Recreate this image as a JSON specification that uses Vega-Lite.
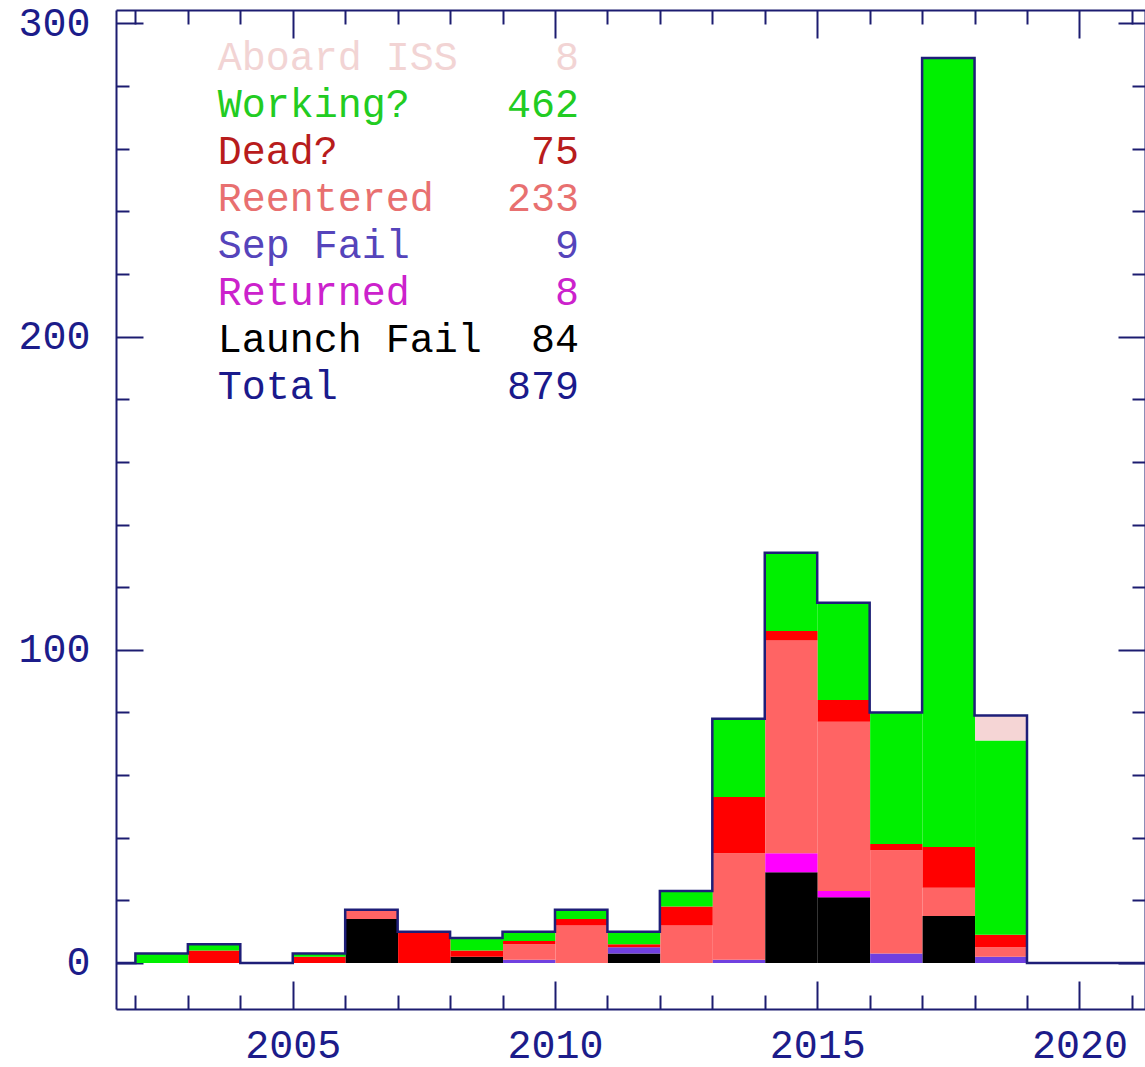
{
  "$schema": "https://vega.github.io/schema/vega-lite/v6.json",
  "width": 1029,
  "height": 999,
  "autosize": {"type": "none"},
  "padding": {"left": 116, "top": 10, "right": 0, "bottom": 58},
  "background": "white",
  "config": {"view": {"stroke": null}, "axis": {"grid": false}},
  "datasets": {
    "sats": [
      {"year": 2001, "cat": "Working?", "n": 0},
      {"year": 2002, "cat": "Working?", "n": 3},
      {"year": 2003, "cat": "Dead?", "n": 4},
      {"year": 2003, "cat": "Working?", "n": 2},
      {"year": 2004, "cat": "Working?", "n": 0},
      {"year": 2005, "cat": "Dead?", "n": 2},
      {"year": 2005, "cat": "Working?", "n": 1},
      {"year": 2006, "cat": "Launch Fail", "n": 14},
      {"year": 2006, "cat": "Reentered", "n": 3},
      {"year": 2007, "cat": "Dead?", "n": 10},
      {"year": 2008, "cat": "Launch Fail", "n": 2},
      {"year": 2008, "cat": "Dead?", "n": 2},
      {"year": 2008, "cat": "Working?", "n": 4},
      {"year": 2009, "cat": "Sep Fail", "n": 1},
      {"year": 2009, "cat": "Reentered", "n": 5},
      {"year": 2009, "cat": "Dead?", "n": 1},
      {"year": 2009, "cat": "Working?", "n": 3},
      {"year": 2010, "cat": "Reentered", "n": 12},
      {"year": 2010, "cat": "Dead?", "n": 2},
      {"year": 2010, "cat": "Working?", "n": 3},
      {"year": 2011, "cat": "Launch Fail", "n": 3},
      {"year": 2011, "cat": "Sep Fail", "n": 2},
      {"year": 2011, "cat": "Dead?", "n": 1},
      {"year": 2011, "cat": "Working?", "n": 4},
      {"year": 2012, "cat": "Reentered", "n": 12},
      {"year": 2012, "cat": "Dead?", "n": 6},
      {"year": 2012, "cat": "Working?", "n": 5},
      {"year": 2013, "cat": "Sep Fail", "n": 1},
      {"year": 2013, "cat": "Reentered", "n": 34},
      {"year": 2013, "cat": "Dead?", "n": 18},
      {"year": 2013, "cat": "Working?", "n": 25},
      {"year": 2014, "cat": "Launch Fail", "n": 29},
      {"year": 2014, "cat": "Returned", "n": 6},
      {"year": 2014, "cat": "Reentered", "n": 68},
      {"year": 2014, "cat": "Dead?", "n": 3},
      {"year": 2014, "cat": "Working?", "n": 25},
      {"year": 2015, "cat": "Launch Fail", "n": 21},
      {"year": 2015, "cat": "Returned", "n": 2},
      {"year": 2015, "cat": "Reentered", "n": 54},
      {"year": 2015, "cat": "Dead?", "n": 7},
      {"year": 2015, "cat": "Working?", "n": 31},
      {"year": 2016, "cat": "Sep Fail", "n": 3},
      {"year": 2016, "cat": "Reentered", "n": 33},
      {"year": 2016, "cat": "Dead?", "n": 2},
      {"year": 2016, "cat": "Working?", "n": 42},
      {"year": 2017, "cat": "Launch Fail", "n": 15},
      {"year": 2017, "cat": "Reentered", "n": 9},
      {"year": 2017, "cat": "Dead?", "n": 13},
      {"year": 2017, "cat": "Working?", "n": 252},
      {"year": 2018, "cat": "Sep Fail", "n": 2},
      {"year": 2018, "cat": "Reentered", "n": 3},
      {"year": 2018, "cat": "Dead?", "n": 4},
      {"year": 2018, "cat": "Working?", "n": 62},
      {"year": 2018, "cat": "Aboard ISS", "n": 8},
      {"year": 2019, "cat": "Working?", "n": 0},
      {"year": 2020, "cat": "Working?", "n": 0},
      {"year": 2021, "cat": "Working?", "n": 0},
      {"year": 2022, "cat": "Working?", "n": 0}
    ]
  },
  "layer": [
    {
      "data": {"name": "sats"},
      "transform": [
        {"calculate": "indexof(['Launch Fail', 'Returned', 'Sep Fail', 'Reentered', 'Dead?', 'Working?', 'Aboard ISS'], datum.cat)", "as": "stack_rank"}
      ],
      "mark": {"type": "bar", "binSpacing": 0, "clip": true},
      "encoding": {
        "x": {
          "field": "year", "type": "quantitative",
          "bin": {"step": 1, "extent": [2001, 2023]},
          "scale": {"domain": [2001.63, 2021.25], "nice": false, "zero": false},
          "axis": {
            "orient": "bottom", "title": null,
            "values": [2002,2003,2004,2005,2006,2007,2008,2009,2010,2011,2012,2013,2014,2015,2016,2017,2018,2019,2020,2021],
            "format": "d",
            "labelExpr": "datum.value % 5 === 0 ? datum.label : ''",
            "tickSize": {"condition": {"test": "datum.value % 5 === 0", "value": -28}, "value": -14},
            "labelPadding": 44,
            "labelFont": "Liberation Mono", "labelFontSize": 40, "labelColor": "#1c1c8a",
            "labelFlush": false, "labelOverlap": false,
            "domainColor": "#1c1c70", "domainWidth": 2, "tickColor": "#1c1c70", "tickWidth": 2
          }
        },
        "y": {
          "aggregate": "sum", "field": "n", "type": "quantitative", "stack": "zero",
          "scale": {"domain": [-14.7, 304.3], "nice": false, "zero": false},
          "axis": {
            "orient": "left", "title": null,
            "values": [0,20,40,60,80,100,120,140,160,180,200,220,240,260,280,300],
            "labelExpr": "datum.value % 100 === 0 ? datum.label : ''",
            "tickSize": {"condition": {"test": "datum.value % 100 === 0", "value": -27}, "value": -13},
            "labelPadding": 53,
            "labelFont": "Liberation Mono", "labelFontSize": 40, "labelColor": "#1c1c8a",
            "labelFlush": false, "labelOverlap": false,
            "domainColor": "#1c1c70", "domainWidth": 2, "tickColor": "#1c1c70", "tickWidth": 2
          }
        },
        "color": {
          "field": "cat", "type": "nominal",
          "scale": {
            "domain": ["Launch Fail", "Returned", "Sep Fail", "Reentered", "Dead?", "Working?", "Aboard ISS"],
            "range": ["#000000", "#ff00ff", "#7040e0", "#ff6464", "#ff0000", "#00f000", "#f5d5d5"]
          },
          "legend": null
        },
        "order": {"field": "stack_rank", "type": "quantitative", "sort": "ascending"}
      }
    },
    {
      "data": {"name": "sats"},
      "mark": {"type": "line", "interpolate": "step-after", "color": "#1e1e78", "strokeWidth": 2.5, "clip": true},
      "encoding": {
        "x": {
          "field": "year", "type": "quantitative",
          "scale": {"domain": [2001.63, 2021.25], "nice": false, "zero": false},
          "axis": {
            "orient": "top", "title": null, "labels": false,
            "values": [2002,2003,2004,2005,2006,2007,2008,2009,2010,2011,2012,2013,2014,2015,2016,2017,2018,2019,2020,2021],
            "tickSize": {"condition": {"test": "datum.value % 5 === 0", "value": -28}, "value": -14},
            "domainColor": "#1c1c70", "domainWidth": 2, "tickColor": "#1c1c70", "tickWidth": 2
          }
        },
        "y": {
          "aggregate": "sum", "field": "n", "type": "quantitative",
          "scale": {"domain": [-14.7, 304.3], "nice": false, "zero": false},
          "axis": {
            "orient": "right", "title": null, "labels": false,
            "values": [0,20,40,60,80,100,120,140,160,180,200,220,240,260,280,300],
            "tickSize": {"condition": {"test": "datum.value % 100 === 0", "value": -27}, "value": -13},
            "domainColor": "#1c1c70", "domainWidth": 2, "tickColor": "#1c1c70", "tickWidth": 2
          }
        }
      }
    },
    {
      "data": {"name": "sats"},
      "transform": [
        {"aggregate": [{"op": "sum", "field": "n", "as": "total"}], "groupby": ["cat"]}
      ],
      "layer": [
        {
          "mark": {"type": "text", "align": "left", "baseline": "middle", "font": "Liberation Mono", "fontSize": 40},
          "encoding": {
            "x": {"datum": 2003.57, "type": "quantitative", "axis": null},
            "y": {"field": "cat", "type": "nominal", "axis": null,
              "scale": {"type": "band", "domain": ["Aboard ISS", "Working?", "Dead?", "Reentered", "Sep Fail", "Returned", "Launch Fail", "Total"], "paddingInner": 0, "paddingOuter": 0, "range": [24, 401]}},
            "text": {"field": "cat", "type": "nominal"},
            "fill": {"field": "cat", "type": "nominal", "legend": null,
              "scale": {"domain": ["Aboard ISS", "Working?", "Dead?", "Reentered", "Sep Fail", "Returned", "Launch Fail"],
                        "range": ["#f2d4d4", "#22cc22", "#b81c1c", "#e87070", "#5544bb", "#cc22cc", "#000000"]}}
          }
        },
        {
          "mark": {"type": "text", "align": "right", "baseline": "middle", "font": "Liberation Mono", "fontSize": 40},
          "encoding": {
            "x": {"datum": 2010.46, "type": "quantitative", "axis": null},
            "y": {"field": "cat", "type": "nominal", "axis": null},
            "text": {"field": "total", "type": "quantitative", "format": "d"},
            "fill": {"field": "cat", "type": "nominal", "legend": null}
          }
        },
        {
          "transform": [{"aggregate": [{"op": "sum", "field": "total", "as": "all"}]}],
          "mark": {"type": "text", "align": "left", "baseline": "middle", "font": "Liberation Mono", "fontSize": 40, "color": "#1a1a8c"},
          "encoding": {
            "x": {"datum": 2003.57, "type": "quantitative", "axis": null},
            "y": {"datum": "Total", "type": "nominal", "axis": null},
            "text": {"value": "Total"}
          }
        },
        {
          "transform": [{"aggregate": [{"op": "sum", "field": "total", "as": "all"}]}],
          "mark": {"type": "text", "align": "right", "baseline": "middle", "font": "Liberation Mono", "fontSize": 40, "color": "#1a1a8c"},
          "encoding": {
            "x": {"datum": 2010.46, "type": "quantitative", "axis": null},
            "y": {"datum": "Total", "type": "nominal", "axis": null},
            "text": {"field": "all", "type": "quantitative", "format": "d"}
          }
        }
      ]
    }
  ],
  "resolve": {"scale": {"y": "independent"}, "axis": {"x": "independent", "y": "independent"}}
}
